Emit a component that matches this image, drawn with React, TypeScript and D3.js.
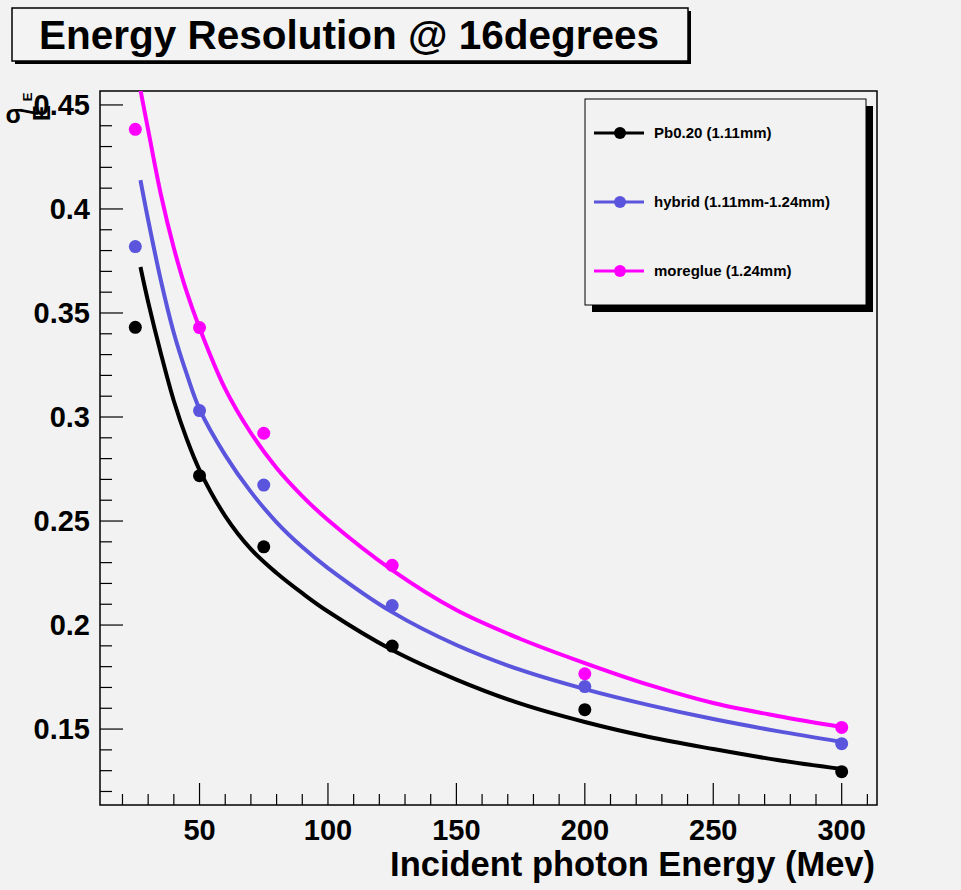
import { useEffect, useRef } from 'react';
import * as d3 from 'd3';

// measured points
const energies = [25, 50, 75, 125, 200, 300];
const pbRes = [0.3431, 0.2718, 0.2376, 0.1899, 0.1593, 0.1295];
const hybridRes = [0.3819, 0.3031, 0.2673, 0.2094, 0.1704, 0.1430];
const moreglueRes = [0.4383, 0.3430, 0.2922, 0.2287, 0.1766, 0.1508];

// fitted curves
const fitE = [27, 30, 35, 40, 45, 50, 60, 70, 80, 90, 100, 125, 150, 175, 200, 225, 250, 275, 300];
const pbFit = [0.3721, 0.3553, 0.3303, 0.3077, 0.2895, 0.2745, 0.2524, 0.2365, 0.2250, 0.2153, 0.2065, 0.1880, 0.1738, 0.1622, 0.1534, 0.1462, 0.1404, 0.1351, 0.1308];
const hybridFit = [0.4139, 0.3947, 0.3654, 0.3404, 0.3207, 0.3038, 0.2817, 0.2640, 0.2494, 0.2375, 0.2274, 0.2062, 0.1904, 0.1784, 0.1692, 0.1615, 0.1548, 0.1490, 0.1438];
const moreglueFit = [0.4572, 0.4380, 0.4067, 0.3812, 0.3601, 0.3428, 0.3135, 0.2923, 0.2755, 0.2620, 0.2505, 0.2264, 0.2072, 0.1933, 0.1817, 0.1712, 0.1625, 0.1563, 0.1510];

const seriesNames = ['Pb0.20 (1.11mm)', 'hybrid (1.11mm-1.24mm)', 'moreglue (1.24mm)'];
const seriesColors = ['#000000', '#5a55dc', '#ff00ff'];

const xMajor = [50, 100, 150, 200, 250, 300];
const yMajor = [0.15, 0.2, 0.25, 0.3, 0.35, 0.4, 0.45];

const FONT = '"Liberation Sans", Arial, Helvetica, sans-serif';

export default function App() {
  const ref = useRef<SVGSVGElement>(null);

  useEffect(() => {
    if (!ref.current) return;
    const W = 961, H = 890;
    const svg = d3.select(ref.current);
    svg.selectAll('*').remove();
    svg.attr('width', W).attr('height', H).attr('viewBox', `0 0 ${W} ${H}`);

    svg.append('rect').attr('width', W).attr('height', H).attr('fill', '#f2f2f2');

    const left = 100, right = 877, top = 91, bottom = 805;
    const x = d3.scaleLinear().domain([11.25, 313.75]).range([left, right]);
    const y = d3.scaleLinear().domain([0.1135, 0.4567]).range([bottom, top]);

    // title box
    svg.append('rect').attr('x', 15).attr('y', 11).attr('width', 676).attr('height', 53).attr('fill', '#000');
    svg.append('rect').attr('x', 12).attr('y', 8).attr('width', 676).attr('height', 53)
      .attr('fill', '#f3f3f3').attr('stroke', '#000').attr('stroke-width', 1.5);
    svg.append('text').attr('x', 349).attr('y', 49).attr('text-anchor', 'middle')
      .attr('font-family', FONT).attr('font-weight', 'bold').attr('font-size', 40.5)
      .text('Energy Resolution @ 16degrees');

    // clip
    svg.append('clipPath').attr('id', 'plotclip')
      .append('rect').attr('x', left).attr('y', top).attr('width', right - left).attr('height', bottom - top);

    // x ticks
    const xMinor = d3.range(20, 311, 10);
    const gx = svg.append('g');
    gx.selectAll('line').data(xMinor).join('line')
      .attr('x1', d => x(d)).attr('x2', d => x(d))
      .attr('y1', bottom).attr('y2', d => bottom - (d % 50 === 0 ? 22 : 11))
      .attr('stroke', '#000').attr('stroke-width', 1.2);
    gx.selectAll('text').data(xMajor).join('text')
      .attr('x', d => x(d)).attr('y', 840).attr('text-anchor', 'middle')
      .attr('font-family', FONT).attr('font-weight', 'bold').attr('font-size', 29)
      .text(d => String(d));

    // y ticks
    const yMinor = d3.range(12, 46).map(v => v / 100);
    const gy = svg.append('g');
    gy.selectAll('line').data(yMinor).join('line')
      .attr('x1', left).attr('x2', d => left + (Math.round(d * 100) % 5 === 0 ? 23 : 12))
      .attr('y1', d => y(d)).attr('y2', d => y(d))
      .attr('stroke', '#000').attr('stroke-width', 1.2);
    gy.selectAll('text').data(yMajor).join('text')
      .attr('x', 90).attr('y', d => y(d) + 10).attr('text-anchor', 'end')
      .attr('font-family', FONT).attr('font-weight', 'bold').attr('font-size', 29)
      .text(d => String(d));

    // axis titles
    svg.append('text').attr('x', 875).attr('y', 876).attr('text-anchor', 'end')
      .attr('font-family', FONT).attr('font-weight', 'bold').attr('font-size', 34.5)
      .text('Incident photon Energy (Mev)');

    // y title, drawn glyph by glyph the way the original renders it
    const yt = svg.append('g').attr('font-family', FONT).attr('font-weight', 'bold');
    const glyphs: [string, number, number, number, number][] = [
      ['σ', 14, 114, 25, 0], ['E', 27, 97, 13, -90], ['/', 29, 112, 24, -90], ['E', 41, 113, 24, -90],
    ];
    glyphs.forEach(([t, gx0, gy0, fs, rot]) => {
      yt.append('text').attr('x', 0).attr('y', 0).attr('font-size', fs)
        .attr('text-anchor', 'middle').attr('dominant-baseline', 'central')
        .attr('transform', `translate(${gx0},${gy0}) rotate(${rot})`).text(t);
    });

    // frame
    svg.append('rect').attr('x', left).attr('y', top).attr('width', right - left).attr('height', bottom - top)
      .attr('fill', 'none').attr('stroke', '#000').attr('stroke-width', 1.5);

    // fit curves
    const fits = [pbFit, hybridFit, moreglueFit];
    const line = d3.line<number>().x((_, i) => x(fitE[i])).y(d => y(d)).curve(d3.curveCatmullRom.alpha(0.5));
    const gc = svg.append('g').attr('clip-path', 'url(#plotclip)');
    fits.forEach((f, k) => {
      gc.append('path').attr('d', line(f)!).attr('fill', 'none')
        .attr('stroke', seriesColors[k]).attr('stroke-width', 4).attr('stroke-linejoin', 'round');
    });

    // markers
    const pts = [pbRes, hybridRes, moreglueRes];
    pts.forEach((p, k) => {
      gc.append('g').selectAll('circle').data(p).join('circle')
        .attr('cx', (_, i) => x(energies[i])).attr('cy', d => y(d)).attr('r', 6.5)
        .attr('fill', seriesColors[k]);
    });

    // legend
    const lx = 585, ly = 99, lw = 281, lh = 206;
    svg.append('rect').attr('x', lx + 7).attr('y', ly + 7).attr('width', lw).attr('height', lh).attr('fill', '#000');
    svg.append('rect').attr('x', lx).attr('y', ly).attr('width', lw).attr('height', lh)
      .attr('fill', '#f2f2f2').attr('stroke', '#000').attr('stroke-width', 1);
    const rowY = [133, 202, 271];
    seriesNames.forEach((name, k) => {
      const g = svg.append('g');
      g.append('line').attr('x1', 594).attr('x2', 644).attr('y1', rowY[k]).attr('y2', rowY[k])
        .attr('stroke', seriesColors[k]).attr('stroke-width', 3);
      g.append('circle').attr('cx', 620).attr('cy', rowY[k]).attr('r', 6).attr('fill', seriesColors[k]);
      g.append('text').attr('x', 654).attr('y', rowY[k] + 5)
        .attr('font-family', FONT).attr('font-weight', 'bold').attr('font-size', 15)
        .text(name);
    });
  }, []);

  return <svg ref={ref} style={{ position: 'absolute', left: 0, top: 0, display: 'block' }} />;
}
